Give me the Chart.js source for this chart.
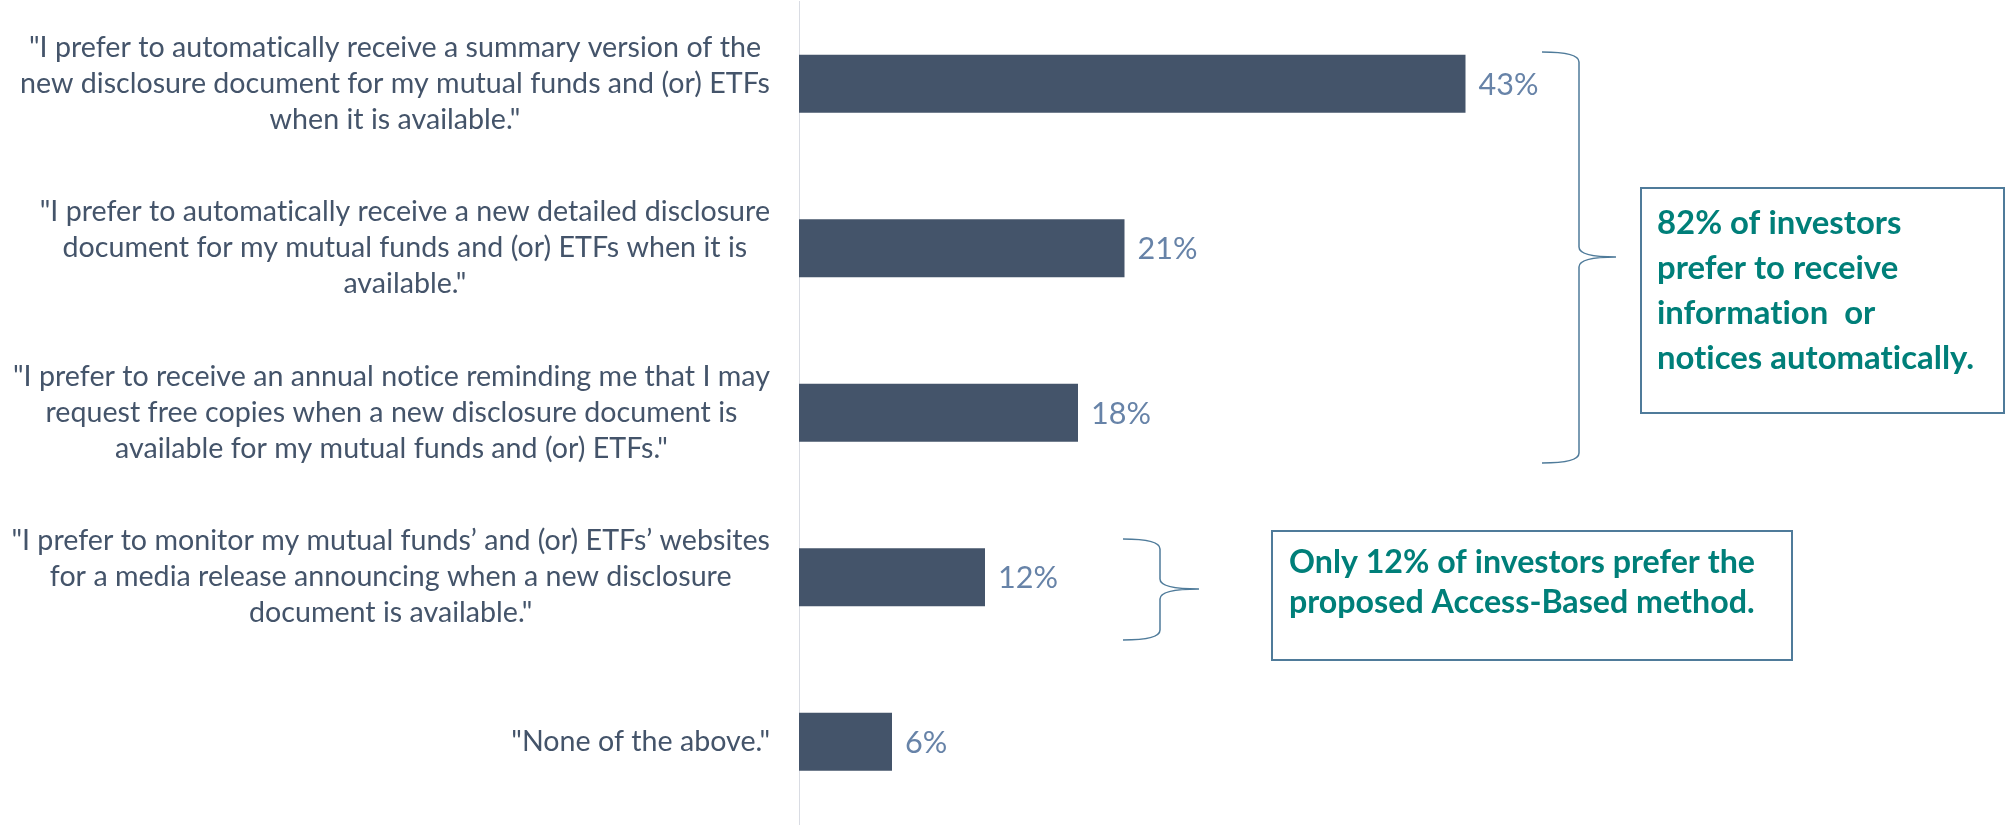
<!DOCTYPE html>
<html>
<head>
<meta charset="utf-8">
<script src="https://cdn.jsdelivr.net/npm/chart.js@4/dist/chart.umd.min.js"></script>
<style>
  html, body { margin: 0; padding: 0; background: #ffffff; }
  #wrap { width: 2005px; height: 825px; position: relative; }
</style>
</head>
<body>
<div id="wrap"><canvas id="c" width="2005" height="825"></canvas></div>
<script>
// ---- DATA ----
const categories = [
  ["\"I prefer to automatically receive a summary version of the", "new disclosure document for my mutual funds and (or) ETFs", "when it is available.\""],
  ["\"I prefer to automatically receive a new detailed disclosure", "document for my mutual funds and (or) ETFs when it is", "available.\""],
  ["\"I prefer to receive an annual notice reminding me that I may", "request free copies when a new disclosure document is", "available for my mutual funds and (or) ETFs.\""],
  ["\"I prefer to monitor my mutual funds\u2019 and (or) ETFs\u2019 websites", "for a media release announcing when a new disclosure", "document is available.\""],
  ["\"None of the above.\""]
];
const values = [43, 21, 18, 12, 6];
const valueLabels = ["43%", "21%", "18%", "12%", "6%"];
const noteAutomatic = ["82% of investors", "prefer to receive", "information  or", "notices automatically."];
const noteAccess = ["Only 12% of investors prefer the", "proposed Access-Based method."];

// ---- STYLE ----
const FAMILY = "Lato, 'Open Sans', sans-serif";
const BAR_COLOR = "#44546A";
const CAT_COLOR = "#44546A";
const VALUE_COLOR = "#6783A8";
const NOTE_COLOR = "#007F79";
const FRAME_COLOR = "#4F7B9A";

function fitSize(ctx, text, target, weight) {
  ctx.font = weight + " 100px " + FAMILY;
  const w = ctx.measureText(text).width;
  return 100 * target / w;
}

function drawBrace(ctx, xEnd, xv, xt, top, mid, bottom, r) {
  ctx.beginPath();
  ctx.moveTo(xEnd, top);
  ctx.quadraticCurveTo(xv, top, xv, top + r);
  ctx.lineTo(xv, mid - r);
  ctx.quadraticCurveTo(xv, mid, xt, mid);
  ctx.moveTo(xt, mid);
  ctx.quadraticCurveTo(xv, mid, xv, mid + r);
  ctx.lineTo(xv, bottom - r);
  ctx.quadraticCurveTo(xv, bottom, xEnd, bottom);
  ctx.stroke();
}

const overlay = {
  id: 'overlay',
  afterDraw(chart) {
    const ctx = chart.ctx;
    const yScale = chart.scales.y;
    const meta = chart.getDatasetMeta(0);
    ctx.save();
    if ('letterSpacing' in ctx) ctx.letterSpacing = '0.01px';

    // category labels (each block right-aligned, lines centered within block)
    const catSize = fitSize(ctx, categories[0][1], 750, "normal");
    ctx.font = "normal " + catSize.toFixed(2) + "px " + FAMILY;
    ctx.fillStyle = CAT_COLOR;
    ctx.textAlign = "center";
    ctx.textBaseline = "alphabetic";
    const lineH = 36;
    const blockRight = chart.chartArea.left - 29;
    categories.forEach((lines, i) => {
      const yc = yScale.getPixelForValue(i);
      let bw = 0;
      lines.forEach(l => { bw = Math.max(bw, ctx.measureText(l).width); });
      const cx = blockRight - bw / 2;
      const n = lines.length;
      lines.forEach((l, j) => {
        ctx.fillText(l, cx, yc + (j - (n - 1) / 2) * lineH + 9);
      });
    });

    // value labels
    const valSize = fitSize(ctx, "43%", 60, "normal");
    ctx.font = "normal " + valSize.toFixed(2) + "px " + FAMILY;
    ctx.fillStyle = VALUE_COLOR;
    ctx.textAlign = "left";
    meta.data.forEach((el, i) => {
      ctx.fillText(valueLabels[i], el.x + 13, el.y + 11);
    });

    // braces
    ctx.strokeStyle = FRAME_COLOR;
    ctx.lineWidth = 1.5;
    drawBrace(ctx, 1542, 1579, 1616, 52, 257, 463, 10);
    drawBrace(ctx, 1123, 1160, 1199, 539, 589, 640, 10);

    // note boxes
    ctx.lineWidth = 2;
    ctx.fillStyle = "#ffffff";
    ctx.fillRect(1641, 188, 363, 225);
    ctx.strokeRect(1641, 188, 363, 225);
    ctx.fillRect(1272, 531, 520, 129);
    ctx.strokeRect(1272, 531, 520, 129);

    ctx.fillStyle = NOTE_COLOR;
    ctx.textAlign = "left";
    const n1 = fitSize(ctx, noteAutomatic[3], 317, "bold");
    ctx.font = "bold " + n1.toFixed(2) + "px " + FAMILY;
    noteAutomatic.forEach((l, j) => ctx.fillText(l, 1657, 234 + 45 * j));
    const n2 = fitSize(ctx, noteAccess[0], 466, "bold");
    ctx.font = "bold " + n2.toFixed(2) + "px " + FAMILY;
    noteAccess.forEach((l, j) => ctx.fillText(l, 1289, 573 + 40 * j));

    ctx.restore();
  }
};

new Chart(document.getElementById('c'), {
  type: 'bar',
  data: {
    labels: categories,
    datasets: [{
      data: values,
      backgroundColor: BAR_COLOR,
      borderWidth: 0,
      categoryPercentage: 1,
      barPercentage: 0.353
    }]
  },
  options: {
    indexAxis: 'y',
    responsive: false,
    animation: false,
    devicePixelRatio: 1,
    layout: { padding: { left: 799, right: 431, top: 1.5, bottom: 1 } },
    scales: {
      x: { type: 'linear', min: 0, max: 50, display: false },
      y: {
        ticks: { display: false },
        grid: { display: false, drawTicks: false },
        border: { display: true, color: '#D9DCE3', width: 1 },
        afterFit(s) { s.width = 0; }
      }
    },
    plugins: { legend: { display: false }, tooltip: { enabled: false } }
  },
  plugins: [overlay]
});
</script>
</body>
</html>
